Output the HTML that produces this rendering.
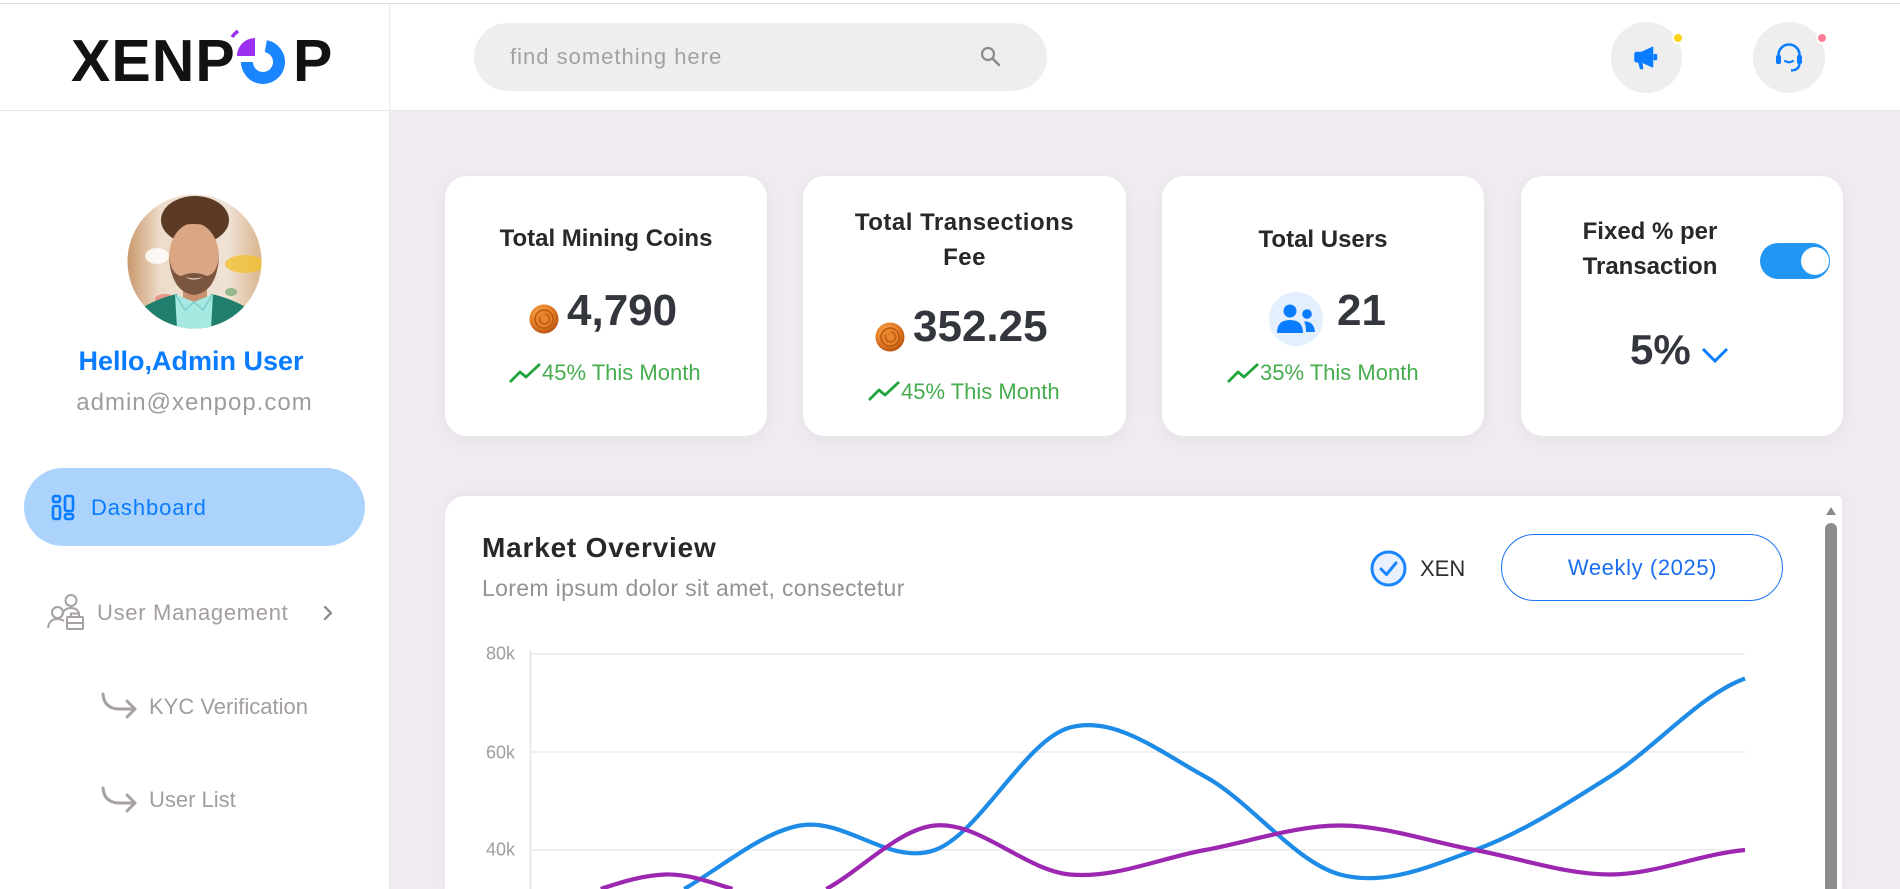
<!DOCTYPE html>
<html>
<head>
<meta charset="utf-8">
<style>
html,body{margin:0;padding:0;width:1900px;height:889px;overflow:hidden;}
body{position:relative;background:#ffffff;font-family:"Liberation Sans",Arial,sans-serif;}
.a{position:absolute;}
.t{position:absolute;white-space:nowrap;font-family:"Liberation Sans",Arial,sans-serif;}
.card{position:absolute;background:#fff;border-radius:22px;box-shadow:0 4px 16px rgba(60,40,80,0.05);}
.ttl{font-size:24px;font-weight:bold;color:#282828;text-align:center;line-height:35px;}
.val{font-size:44px;font-weight:bold;color:#33363d;line-height:50px;}
.grn{font-size:22px;color:#46ad4e;line-height:26px;}
</style>
</head>
<body>

<!-- top line -->
<div class="a" style="left:0;top:3px;width:1900px;height:1px;background:#dedede;"></div>
<!-- main background -->
<div class="a" style="left:390px;top:111px;width:1510px;height:778px;background:#efebf0;"></div>
<!-- header bottom border -->
<div class="a" style="left:0;top:110px;width:1900px;height:1px;background:#e6e6e6;"></div>
<!-- sidebar border -->
<div class="a" style="left:389px;top:4px;width:1px;height:885px;background:#ebebeb;"></div>

<!-- Logo -->
<div class="t" style="left:71px;top:31px;font-size:59px;font-weight:bold;letter-spacing:1px;color:#121212;line-height:60px;">XENP</div>
<svg class="a" style="left:228px;top:28px;" width="64" height="64" viewBox="228 28 64 64">
  <path d="M265.8 46.2 A16 16 0 1 1 247 62" fill="none" stroke="#1a85ff" stroke-width="12"/>
  <path d="M255 56 L237 56 A18 18 0 0 1 255 38 Z" fill="#9b30f0"/>
  <path d="M232 37 A26 26 0 0 1 238 31" fill="none" stroke="#9b30f0" stroke-width="3.5"/>
</svg>
<div class="t" style="left:293px;top:31px;font-size:59px;font-weight:bold;color:#121212;line-height:60px;">P</div>

<!-- Search -->
<div class="a" style="left:474px;top:23px;width:573px;height:68px;border-radius:34px;background:#eeeeee;"></div>
<div class="t" style="left:510px;top:44px;font-size:22px;letter-spacing:1px;color:#a2a2a2;line-height:26px;">find something here</div>
<svg class="a" style="left:980px;top:45px;" width="24" height="24" viewBox="0 0 24 24">
  <circle cx="8" cy="9" r="6" fill="none" stroke="#8a8a8a" stroke-width="2.2"/>
  <line x1="12.5" y1="13.5" x2="19" y2="20" stroke="#8a8a8a" stroke-width="2.4" stroke-linecap="round"/>
</svg>

<!-- header icons -->
<div class="a" style="left:1611px;top:22px;width:71px;height:71px;border-radius:50%;background:#eeeeee;"></div>
<svg class="a" style="left:1633px;top:46px;" width="28" height="26" viewBox="0 0 30 28">
  <path d="M2 9 Q2 7 4 7 L9 7 L21 1.5 L21 22.5 L9 17 L4 17 Q2 17 2 15 Z" fill="#0a7cff" stroke="#0a7cff" stroke-width="1.5" stroke-linejoin="round"/>
  <path d="M5 16 L7.5 25 L11 25 L10 16 Z" fill="#0a7cff"/>
  <rect x="22" y="8.5" width="4" height="7" rx="1.5" fill="#0a7cff"/>
</svg>
<div class="a" style="left:1672px;top:32px;width:8px;height:8px;border-radius:50%;background:#ffd21a;border:2px solid #fff;"></div>

<div class="a" style="left:1753px;top:22px;width:72px;height:71px;border-radius:50%;background:#eeeeee;"></div>
<svg class="a" style="left:1774px;top:42px;" width="30" height="32" viewBox="0 0 30 32">
  <path d="M4.5 17 V13 A10.5 10.5 0 0 1 25.5 13 V17" fill="none" stroke="#0a7cff" stroke-width="2.6"/>
  <rect x="2" y="13" width="5" height="9" rx="2" fill="#0a7cff"/>
  <rect x="23" y="13" width="5" height="9" rx="2" fill="#0a7cff"/>
  <path d="M25.5 21 Q25.5 28 17 28.5" fill="none" stroke="#0a7cff" stroke-width="2.4"/>
  <path d="M11 19 Q15 21.5 19 19" fill="none" stroke="#0a7cff" stroke-width="2.2" stroke-linecap="round"/>
</svg>
<div class="a" style="left:1816px;top:32px;width:8px;height:8px;border-radius:50%;background:#ff7d92;border:2px solid #fff;"></div>

<!-- Avatar -->
<svg class="a" style="left:127px;top:194px;" width="135" height="135" viewBox="0 0 135 135">
  <defs>
    <clipPath id="cp"><circle cx="67.5" cy="67.5" r="67"/></clipPath>
    <linearGradient id="bgg" x1="0" y1="0" x2="1" y2="0">
      <stop offset="0" stop-color="#c9986c"/>
      <stop offset="0.25" stop-color="#eedccb"/>
      <stop offset="0.75" stop-color="#efe2d4"/>
      <stop offset="1" stop-color="#d9b48e"/>
    </linearGradient>
  </defs>
  <g clip-path="url(#cp)">
    <rect width="135" height="135" fill="url(#bgg)"/>
    <ellipse cx="30" cy="62" rx="12" ry="8" fill="#ffffff" opacity="0.8"/>
    <ellipse cx="118" cy="70" rx="20" ry="9" fill="#f2c232" opacity="0.8"/>
    <ellipse cx="38" cy="105" rx="10" ry="5" fill="#e06a5a" opacity="0.6"/>
    <ellipse cx="104" cy="98" rx="6" ry="4" fill="#5aa060" opacity="0.6"/>
    <rect x="56" y="88" width="24" height="20" fill="#c8906e"/>
    <ellipse cx="68" cy="26" rx="34" ry="24" fill="#5b3b25"/>
    <ellipse cx="67" cy="63" rx="25" ry="34" fill="#dba684"/>
    <path d="M42 62 Q44 98 67 101 Q90 98 92 62 Q90 80 80 82 Q67 76 54 82 Q44 80 42 62 Z" fill="#7a5640"/>
    <path d="M58 83 Q67 88 76 83 Q67 86 58 83 Z" fill="#f4e6dc"/>
    <path d="M42 40 Q44 22 67 20 Q90 22 93 42 Q88 30 67 30 Q48 30 42 40 Z" fill="#5b3b25"/>
    <path d="M0 135 L8 118 Q30 104 50 100 L67 135 Z" fill="#1f7f6c"/>
    <path d="M135 135 L127 118 Q105 104 84 100 L67 135 Z" fill="#1f7f6c"/>
    <path d="M48 100 L67 108 L86 100 L84 135 L50 135 Z" fill="#a6e9e3"/>
    <path d="M48 100 L58 116 L67 108 L76 116 L86 100" fill="none" stroke="#7ccdc6" stroke-width="1.5"/>
  </g>
</svg>

<div class="t" style="left:0;top:346px;width:382px;text-align:center;font-size:27px;font-weight:bold;color:#0a7cff;line-height:30px;">Hello,Admin User</div>
<div class="t" style="left:0;top:389px;width:389px;text-align:center;font-size:24px;letter-spacing:1px;color:#9d9d9d;line-height:28px;">admin@xenpop.com</div>

<!-- Dashboard pill -->
<div class="a" style="left:24px;top:468px;width:341px;height:78px;border-radius:39px;background:#acd3fc;"></div>
<svg class="a" style="left:50px;top:493px;" width="27" height="29" viewBox="0 0 27 29">
  <rect x="3" y="3" width="7" height="6" rx="2" fill="none" stroke="#0a7cff" stroke-width="2.6"/>
  <rect x="3" y="13" width="7" height="13" rx="2" fill="none" stroke="#0a7cff" stroke-width="2.6"/>
  <rect x="15" y="3" width="8" height="15" rx="2" fill="none" stroke="#0a7cff" stroke-width="2.6"/>
  <rect x="15" y="21" width="8" height="5" rx="2" fill="none" stroke="#0a7cff" stroke-width="2.6"/>
</svg>
<div class="t" style="left:91px;top:495px;font-size:22px;letter-spacing:0.9px;color:#0a7cff;line-height:26px;">Dashboard</div>

<!-- User management -->
<svg class="a" style="left:46px;top:592px;" width="40" height="40" viewBox="0 0 40 40">
  <g fill="none" stroke="#a8a1a1" stroke-width="2">
    <circle cx="25" cy="8.5" r="5.5"/>
    <path d="M16 23 Q18 16 25 16 Q31 16 33 21"/>
    <circle cx="11.5" cy="20.5" r="5.5"/>
    <path d="M2 36 Q3 27 11.5 27 Q15 27 18 29"/>
    <rect x="21" y="25" width="16" height="12" rx="1"/>
    <path d="M25 25 V21.5 H33 V25"/>
    <line x1="21" y1="31" x2="37" y2="31"/>
  </g>
</svg>
<div class="t" style="left:97px;top:600px;font-size:22px;letter-spacing:0.7px;color:#a39d9d;line-height:26px;">User Management</div>
<svg class="a" style="left:320px;top:604px;" width="16" height="18" viewBox="0 0 16 18">
  <polyline points="5,3 11,9 5,15" fill="none" stroke="#8a8585" stroke-width="2.2" stroke-linecap="round" stroke-linejoin="round"/>
</svg>

<!-- KYC -->
<svg class="a" style="left:100px;top:690px;" width="40" height="34" viewBox="0 0 40 34">
  <path d="M3 4 Q4 18 18 19 L35 19" fill="none" stroke="#a8a1a1" stroke-width="3" stroke-linecap="round"/>
  <polyline points="27,11 35,19 27,27" fill="none" stroke="#a8a1a1" stroke-width="3" stroke-linecap="round" stroke-linejoin="round"/>
</svg>
<div class="t" style="left:149px;top:694px;font-size:22px;color:#a39d9d;line-height:26px;">KYC Verification</div>

<svg class="a" style="left:100px;top:784px;" width="40" height="34" viewBox="0 0 40 34">
  <path d="M3 4 Q4 18 18 19 L35 19" fill="none" stroke="#a8a1a1" stroke-width="3" stroke-linecap="round"/>
  <polyline points="27,11 35,19 27,27" fill="none" stroke="#a8a1a1" stroke-width="3" stroke-linecap="round" stroke-linejoin="round"/>
</svg>
<div class="t" style="left:149px;top:787px;font-size:22px;color:#a39d9d;line-height:26px;">User List</div>

<!-- Cards -->
<div class="card" style="left:445px;top:176px;width:322px;height:260px;"></div>
<div class="card" style="left:803px;top:176px;width:323px;height:260px;"></div>
<div class="card" style="left:1162px;top:176px;width:322px;height:260px;"></div>
<div class="card" style="left:1521px;top:176px;width:322px;height:260px;"></div>

<svg width="0" height="0" style="position:absolute;left:0;top:0;">
  <defs>
    <radialGradient id="coin" cx="0.42" cy="0.38" r="0.65">
      <stop offset="0" stop-color="#ffc067"/>
      <stop offset="0.55" stop-color="#e9832a"/>
      <stop offset="1" stop-color="#b34e0c"/>
    </radialGradient>
  </defs>
</svg>

<!-- Card 1 -->
<div class="t ttl" style="left:445px;top:221px;width:322px;">Total Mining Coins</div>
<svg class="a" style="left:529px;top:304px;" width="30" height="30" viewBox="0 0 30 30">
  <ellipse cx="15" cy="15" rx="14.5" ry="14.5" fill="url(#coin)"/>
  <circle cx="15" cy="15" r="9" fill="#e8842c" stroke="#b9560f" stroke-width="1.5"/>
  <path d="M11 13 A5 5 0 1 0 16 10" fill="none" stroke="#c4641a" stroke-width="2"/>
</svg>
<div class="t val" style="left:567px;top:286px;">4,790</div>
<svg class="a" style="left:508px;top:362px;" width="35" height="22" viewBox="0 0 35 22">
  <polyline points="2,20 12,10 18,15 32,2" fill="none" stroke="#1fa53c" stroke-width="2.8" stroke-linejoin="round"/>
</svg>
<div class="t grn" style="left:542px;top:360px;">45% This Month</div>

<!-- Card 2 -->
<div class="t ttl" style="left:803px;top:205px;width:323px;letter-spacing:0.5px;">Total Transections<br>Fee</div>
<svg class="a" style="left:875px;top:322px;" width="30" height="30" viewBox="0 0 30 30">
  <ellipse cx="15" cy="15" rx="14.5" ry="14.5" fill="url(#coin)"/>
  <circle cx="15" cy="15" r="9" fill="#e8842c" stroke="#b9560f" stroke-width="1.5"/>
  <path d="M11 13 A5 5 0 1 0 16 10" fill="none" stroke="#c4641a" stroke-width="2"/>
</svg>
<div class="t val" style="left:913px;top:302px;">352.25</div>
<svg class="a" style="left:867px;top:380px;" width="35" height="22" viewBox="0 0 35 22">
  <polyline points="2,20 12,10 18,15 32,2" fill="none" stroke="#1fa53c" stroke-width="2.8" stroke-linejoin="round"/>
</svg>
<div class="t grn" style="left:901px;top:379px;">45% This Month</div>

<!-- Card 3 -->
<div class="t ttl" style="left:1162px;top:222px;width:322px;">Total Users</div>
<div class="a" style="left:1269px;top:292px;width:54px;height:54px;border-radius:50%;background:#e3effd;"></div>
<svg class="a" style="left:1269px;top:292px;" width="54" height="54" viewBox="0 0 54 54">
  <circle cx="21" cy="19" r="6.5" fill="#0a7cff"/>
  <path d="M8 41 Q8 28 21 28 Q34 28 34 41 Z" fill="#0a7cff"/>
  <circle cx="38" cy="22" r="4.8" fill="#0a7cff"/>
  <path d="M35 29.5 Q45 29 46 40 L37 40 Q37 33 35 29.5 Z" fill="#0a7cff"/>
</svg>
<div class="t val" style="left:1337px;top:286px;">21</div>
<svg class="a" style="left:1226px;top:362px;" width="35" height="22" viewBox="0 0 35 22">
  <polyline points="2,20 12,10 18,15 32,2" fill="none" stroke="#1fa53c" stroke-width="2.8" stroke-linejoin="round"/>
</svg>
<div class="t grn" style="left:1260px;top:360px;">35% This Month</div>

<!-- Card 4 -->
<div class="t ttl" style="left:1500px;top:214px;width:300px;">Fixed % per<br>Transaction</div>
<div class="a" style="left:1760px;top:243px;width:70px;height:36px;border-radius:18px;background:#2196f3;"></div>
<div class="a" style="left:1801px;top:247px;width:28px;height:28px;border-radius:50%;background:#ffffff;"></div>
<div class="t" style="left:1630px;top:326px;font-size:42px;font-weight:bold;color:#33363d;line-height:48px;">5%</div>
<svg class="a" style="left:1700px;top:345px;" width="30" height="20" viewBox="0 0 30 20">
  <polyline points="3,4 15,16 27,4" fill="none" stroke="#0a7cff" stroke-width="3"/>
</svg>

<!-- Chart card -->
<div class="a" style="left:445px;top:496px;width:1397px;height:393px;background:#fff;border-radius:20px 4px 0 0;box-shadow:0 -2px 12px rgba(60,40,80,0.04);"></div>
<div class="t" style="left:482px;top:532px;font-size:28px;font-weight:bold;letter-spacing:0.8px;color:#282828;line-height:32px;">Market Overview</div>
<div class="t" style="left:482px;top:574px;font-size:23px;letter-spacing:0.35px;color:#939393;line-height:28px;">Lorem ipsum dolor sit amet, consectetur</div>

<svg class="a" style="left:1370px;top:550px;" width="37" height="37" viewBox="0 0 37 37">
  <circle cx="18.5" cy="18.5" r="16.5" fill="#e8f1fd" stroke="#1a85ff" stroke-width="3"/>
  <polyline points="11,19 16.5,24.5 26,13" fill="none" stroke="#1a85ff" stroke-width="3" stroke-linecap="round" stroke-linejoin="round"/>
</svg>
<div class="t" style="left:1420px;top:556px;font-size:22px;color:#2e2e2e;line-height:26px;">XEN</div>

<div class="a" style="left:1501px;top:534px;width:280px;height:65px;border-radius:34px;border:1.5px solid #1a73f0;"></div>
<div class="t" style="left:1501px;top:555px;width:283px;text-align:center;font-size:22px;letter-spacing:0.6px;color:#1a6ff0;line-height:26px;">Weekly (2025)</div>

<svg class="a" style="left:0;top:0;" width="1900" height="889" viewBox="0 0 1900 889">
  <g stroke="#ebebeb" stroke-width="1.5">
    <line x1="530" y1="654" x2="1745" y2="654"/>
    <line x1="530" y1="752" x2="1745" y2="752"/>
    <line x1="530" y1="850" x2="1745" y2="850"/>
  </g>
  <line x1="530.5" y1="650" x2="530.5" y2="889" stroke="#e4e4e4" stroke-width="1.5"/>
  <g font-family="Liberation Sans, Arial, sans-serif" font-size="18" fill="#9e9e9e" text-anchor="end">
    <text x="515" y="659.5">80k</text>
    <text x="515" y="758.5">60k</text>
    <text x="515" y="855.5">40k</text>
  </g>
  <path d="M684.17,888.98 C722.78,866.54 761.39,832.51 800,825.5 C845,817.33 890,866.33 935,850 C980,833.67 1025,739.75 1070,727.5 C1115,715.25 1160,752 1205,776.5 C1250,801 1295,862.25 1340,874.5 C1385,886.75 1430,866.33 1475,850 C1520,833.67 1565,805.08 1610,776.5 C1655,747.92 1700,694.83 1745,678.5" fill="none" stroke="#1e8ce6" stroke-width="4.2"/>
  <path d="M600.74,889 C622.16,881.80 643.58,875.28 665,874.5 C687.5,873.69 710,881.85 732.5,889 M826.33,888.96 C862.55,869.12 898.78,828.78 935,825.5 C980,821.42 1025,870.42 1070,874.5 C1115,878.58 1160,858.17 1205,850 C1250,841.83 1295,825.5 1340,825.5 C1385,825.5 1430,841.83 1475,850 C1520,858.17 1565,874.5 1610,874.5 C1655,874.5 1700,854.08 1745,850" fill="none" stroke="#9c27b0" stroke-width="4.2"/>
  <polygon points="1826,515 1836,515 1831,507" fill="#8a8a8a"/>
  <path d="M1825,889 L1825,529 A6 6 0 0 1 1837,529 L1837,889 Z" fill="#8c8c8c"/>
</svg>

</body>
</html>
